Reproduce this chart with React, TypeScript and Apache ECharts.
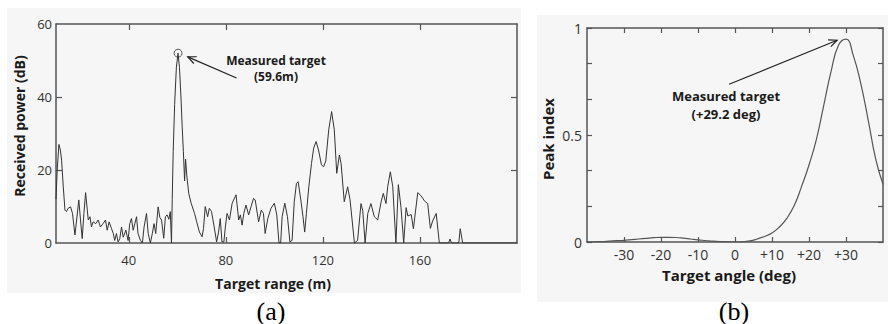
import { useEffect, useRef } from "react";
import * as echarts from "echarts";

// (a) Received power vs target range
const rangeM = [
  10, 10.5, 11.2, 11.8, 12.3, 13, 13.7, 14.3, 15, 16, 16.8, 17.8, 18.5, 19.4, 20.1, 20.8, 21.5, 22.2, 22.9, 23.3,
  24, 24.6, 25.3, 26.4, 27.4, 28.3, 29.4, 30.4, 31.1, 31.9, 32.9, 33.6, 34.2, 34.9, 35.6, 36.3, 37, 37.7, 38.8, 39.7,
  40.4, 41.1, 41.8, 42.5, 43.2, 43.8, 44.8, 45.6, 46.3, 47.3, 48, 48.9, 49.7, 50.4, 51.1, 52.1, 52.8, 53.5, 54.4, 55.1,
  55.8, 56.5, 57.1, 57.6, 57.9, 58.3, 58.9, 59.6, 60.3, 60.9, 61.5, 62, 62.5, 63, 63.4, 63.9, 64.7, 65.7, 67.1, 68,
  69.1, 70.2, 70.8, 71.5, 72.5, 73.2, 74.1, 75.2, 76.2, 77, 77.7, 78.4, 79.2, 79.8, 80.5, 81.5, 82.6, 84.2, 85.3, 86,
  86.7, 87.4, 88.3, 89.4, 90.4, 91.4, 92.1, 93.5, 94.6, 95.5, 96.2, 97.3, 98.6, 100, 101, 101.9, 102.6, 103.2, 104.3, 105.4,
  106.4, 107.3, 108.2, 109.1, 109.8, 110.9, 111.8, 112.5, 113.2, 114.2, 115.3, 116.2, 117.2, 118.2, 119.4, 120.3, 121.2, 122.4, 123.6, 124.7,
  125.7, 126.8, 127.5, 128.8, 130.2, 131.2, 133, 134.3, 135.7, 136.4, 137.4, 138.5, 139.8, 141.2, 142.6, 144, 144.9, 146, 146.7, 147.8,
  148.8, 150.1, 151.1, 152.2, 153.3, 154.3, 155, 156.4, 157.3, 159.1, 160.5, 161.9, 163.2, 164.3, 165.2, 166.7, 168, 171.8, 172.4, 173,
  176, 176.6, 177.6, 200,
];
const powerDb = [
  12, 20, 27, 25.5, 22.7, 15.4, 9, 8.6, 9.5, 9.9, 8.1, 2.2, 6.3, 11.8, 6.3, 1.2, 8.1, 13.8, 9, 6.3,
  7.2, 4.4, 5.8, 5.3, 6.3, 4.4, 5.3, 6.3, 3.5, 5.8, 3.9, 2.6, 0.7, 2.6, 0.3, 1.2, 4.4, 1.6, 3.5, 0.7,
  5.3, 6.7, 3.5, 5.3, 7.2, 2.6, 0.7, 0, 4.4, 8.1, 2.6, 0, 2.6, 5.3, 2.6, 9.9, 7, 6.3, 1.3, 7.2,
  7.7, 6.5, 8.6, 0, 12, 25, 38, 48, 52, 48, 40, 32, 25, 17, 23, 18.6, 13.6, 10.9, 8.1, 5.8,
  3, 1.7, 4, 10, 7.2, 9.5, 8.6, 4.4, 0.3, 3, 6.7, 0.3, 0.3, 4.4, 8.1, 6.3, 10.9, 13.2, 6.3, 7.7,
  4.9, 8.1, 10.4, 7.7, 10, 12.2, 11.8, 5.8, 9, 8.1, 2.6, 6.7, 9.5, 10.9, 7.7, 0, 0, 7.2, 10.9, 7.2,
  0.3, 0.7, 11.3, 16.3, 16.8, 11.8, 7.2, 3, 8.1, 15.4, 21.8, 26, 27.8, 25.5, 21.4, 20.9, 22.5, 31, 36, 31,
  19.1, 24.1, 21.8, 11.3, 15.4, 11.8, 0, 0.7, 10.8, 9, 0, 8.1, 10.8, 7.2, 6.3, 11.3, 13.6, 10.8, 15.4, 19.5,
  15.4, 0, 16, 9.7, 0, 9.7, 7.4, 7.8, 3.9, 13.8, 12.9, 11.5, 10.8, 4, 6, 8.1, 0, 0, 1.1, 0,
  0, 3.9, 0, 0,
];
const rangeTicks = [40, 80, 120, 160];
const measuredRange = 60.3;
const measuredPower = 52;

// (b) Peak index vs target angle
const angleDeg = [
  -40, -38, -36, -34, -32, -30, -28, -26, -24, -22, -20, -18, -16, -14, -12, -10, -8, -6, -4, -2,
  0, 2, 4, 6, 8, 10, 12, 14, 16, 18, 20, 22, 24, 26, 28, 30, 32, 34, 36, 38, 40,
];
const peakIndex = [
  0, 0.001, 0.002, 0.004, 0.006, 0.008, 0.011, 0.014, 0.017, 0.02, 0.022, 0.022, 0.021, 0.018, 0.014, 0.01, 0.007, 0.004, 0.002, 0.001,
  0, 0.001, 0.005, 0.014, 0.026, 0.042, 0.07, 0.11, 0.17, 0.26, 0.36, 0.48, 0.64, 0.8, 0.92, 0.948, 0.87, 0.74, 0.57, 0.39, 0.27,
];
const angleTicks = [-30, -20, -10, 0, 10, 20, 30];
const indexTicks = [0, 1 / 6, 2 / 6, 3 / 6, 4 / 6, 5 / 6, 1];
const indexLabels = [0, 0.5, 1];

export default function App() {
  const ref = useRef<HTMLDivElement>(null);

  useEffect(() => {
    const chart = echarts.init(ref.current as HTMLDivElement, null, { renderer: "svg" });
    const font = "Open Sans";
    const frame = "#555";

    const mkAxis = (
      gridIndex: number,
      position: string,
      min: number,
      max: number,
      ticks: number[],
      tickLen: number,
      labels: number[] | null,
      labelOpts: any = {}
    ) => ({
      type: "value",
      gridIndex,
      position,
      min,
      max,
      axisLine: { show: true, onZero: false, lineStyle: { color: frame, width: 1.5 } },
      axisTick: {
        show: true,
        inside: true,
        length: tickLen,
        customValues: ticks,
        lineStyle: { color: frame, width: 1.2 },
      },
      axisLabel: labels
        ? { show: true, customValues: labels, color: "#333", fontFamily: font, ...labelOpts }
        : { show: false },
      splitLine: { show: false },
    });

    const option: any = {
      animation: false,
      grid: [
        { left: 56, top: 24, width: 461, height: 219 },
        { left: 587, top: 28, width: 296, height: 214 },
      ],
      xAxis: [
        mkAxis(0, "bottom", 10, 200, rangeTicks, 6, rangeTicks, { fontSize: 13, margin: 10 }),
        mkAxis(0, "top", 10, 200, rangeTicks, 6, null),
        mkAxis(1, "bottom", -40, 40, angleTicks, 5, angleTicks, {
          fontSize: 14,
          margin: 5,
          formatter: (v: number) => (v > 0 ? "+" + v : String(v)),
        }),
        mkAxis(1, "top", -40, 40, angleTicks, 5, null),
      ],
      yAxis: [
        mkAxis(0, "left", 0, 60, [20, 40], 6, [0, 20, 40, 60], { fontSize: 13, margin: 4 }),
        mkAxis(0, "right", 0, 60, [20, 40], 6, null),
        mkAxis(1, "left", 0, 1, indexTicks, 5, indexLabels, {
          fontSize: 14,
          margin: 5,
          formatter: (v: number) => String(Math.round(v * 10) / 10),
        }),
        mkAxis(1, "right", 0, 1, indexTicks, 5, null),
      ],
      series: [
        {
          type: "line",
          xAxisIndex: 0,
          yAxisIndex: 0,
          data: rangeM.map((x, i) => [x, powerDb[i]]),
          showSymbol: false,
          symbol: "none",
          lineStyle: { color: "#333", width: 1 },
          z: 3,
        },
        {
          type: "scatter",
          xAxisIndex: 0,
          yAxisIndex: 0,
          data: [[measuredRange, measuredPower]],
          symbol: "circle",
          symbolSize: 8,
          itemStyle: { color: "rgba(0,0,0,0)", borderColor: "#333", borderWidth: 1 },
          z: 4,
        },
        {
          type: "line",
          xAxisIndex: 2,
          yAxisIndex: 2,
          data: angleDeg.map((x, i) => [x, peakIndex[i]]),
          smooth: true,
          showSymbol: false,
          symbol: "none",
          lineStyle: { color: "#555", width: 1.2 },
          z: 3,
        },
      ],
    };
    chart.setOption(option);

    const px = (seriesIndex: number, v: number[]) =>
      chart.convertToPixel({ seriesIndex } as any, v) as number[];

    const arrow = (from: number[], to: number[]) => {
      const dx = to[0] - from[0];
      const dy = to[1] - from[1];
      const ang = Math.atan2(dy, dx);
      const L = 9;
      const a1 = ang + Math.PI - 0.42;
      const a2 = ang + Math.PI + 0.42;
      return [
        {
          type: "line",
          shape: { x1: from[0], y1: from[1], x2: to[0], y2: to[1] },
          style: { stroke: "#222", lineWidth: 1.2 },
          z: 10,
        },
        {
          type: "polyline",
          shape: {
            points: [
              [to[0] + L * Math.cos(a1), to[1] + L * Math.sin(a1)],
              [to[0], to[1]],
              [to[0] + L * Math.cos(a2), to[1] + L * Math.sin(a2)],
            ],
          },
          style: { stroke: "#222", lineWidth: 1.2, fill: null },
          z: 10,
        },
      ];
    };

    const txt = (
      text: string,
      x: number,
      y: number,
      f: string,
      rot = 0,
      fill = "#1a1a1a",
      lineHeight?: number
    ) => ({
      type: "text",
      x,
      y,
      rotation: rot,
      style: {
        text,
        x: 0,
        y: 0,
        align: "center",
        verticalAlign: "middle",
        font: f,
        fill,
        ...(lineHeight ? { lineHeight } : {}),
      },
      z: 10,
    });

    const aFrom = px(0, [84.4, 45.2]);
    const aTo = px(0, [64.3, 51]);
    const bFrom = px(2, [-1.6, 0.737]);
    const bTo = px(2, [27.6, 0.943]);

    chart.setOption({
      graphic: [
        { type: "rect", shape: { x: 7, y: 8, width: 514, height: 285 }, style: { fill: "#f6f6f6" }, z: -10 },
        { type: "rect", shape: { x: 537, y: 15, width: 351, height: 287 }, style: { fill: "#f6f6f6" }, z: -10 },
        ...arrow(aFrom, aTo),
        ...arrow(bFrom, bTo),
        txt("Measured target\n(59.6m)", 276, 68, `bold 12px "${font}"`, 0, "#1a1a1a", 16),
        txt("Measured target\n(+29.2 deg)", 726, 105, `bold 13px "${font}"`, 0, "#1a1a1a", 18),
        txt("Received power (dB)", 19, 126, `bold 14px "${font}"`, Math.PI / 2),
        txt("Target range (m)", 273, 283, `bold 14px "${font}"`),
        txt("Peak index", 548, 139, `bold 15px "${font}"`, Math.PI / 2),
        txt("Target angle (deg)", 729, 275, `bold 15px "${font}"`),
        txt("(a)", 271, 311, `26px "Liberation Serif"`, 0, "#000"),
        txt("(b)", 734, 311, `26px "Liberation Serif"`, 0, "#000"),
      ],
    });

    return () => chart.dispose();
  }, []);

  return (
    <div
      ref={ref}
      style={{ position: "fixed", left: 0, top: 0, width: 888, height: 324, background: "#fff" }}
    />
  );
}
